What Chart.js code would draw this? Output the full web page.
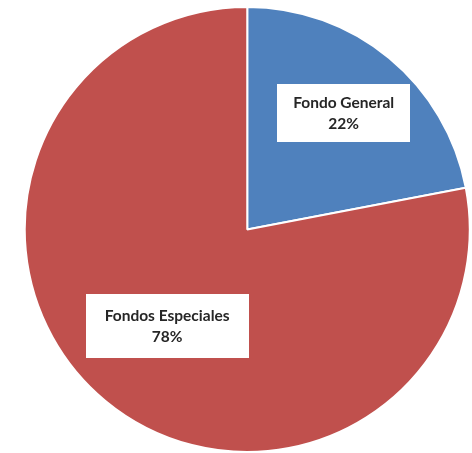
<!DOCTYPE html>
<html>
<head>
<meta charset="utf-8">
<script src="https://cdn.jsdelivr.net/npm/chart.js@4.4.0/dist/chart.umd.min.js"></script>
<style>
  html, body { margin: 0; padding: 0; background: #fff; }
  #wrap { width: 472px; height: 453px; }
</style>
</head>
<body>
<div id="wrap"><canvas id="chart-pie"></canvas></div>
<script>
var categories = ["Fondo General", "Fondos Especiales"];
var shares = [22, 78];
var sliceColors = ["#4F81BD", "#C0504D"];

// label boxes, placed along each slice's mid angle
var boxLabels = {
  id: "boxLabels",
  afterDatasetsDraw: function(chart, args, opts) {
    var ctx = chart.ctx;
    var meta = chart.getDatasetMeta(0);
    ctx.save();
    ctx.font = "bold 15.5px Lato, 'Open Sans', sans-serif";
    ctx.textAlign = "center";
    ctx.textBaseline = "middle";
    meta.data.forEach(function(arc, i) {
      var mid = (arc.startAngle + arc.endAngle) / 2;
      var d = arc.outerRadius * opts.dist[i];
      var cx = arc.x + Math.cos(mid) * d;
      var cy = arc.y + Math.sin(mid) * d;
      var line1 = categories[i];
      var line2 = shares[i] + "%";
      var w = ctx.measureText(line1).width + opts.padX[i] * 2;
      var h = opts.boxH[i];
      ctx.fillStyle = "#ffffff";
      ctx.fillRect(Math.round(cx - w / 2), Math.round(cy - h / 2), Math.round(w), h);
      ctx.fillStyle = "#262626";
      ctx.fillText(line1, cx, cy - 10);
      ctx.fillText(line2, cx, cy + 11);
    });
    ctx.restore();
  }
};

new Chart(document.getElementById("chart-pie").getContext("2d"), {
  type: "pie",
  data: {
    labels: categories,
    datasets: [{
      data: shares,
      backgroundColor: sliceColors,
      borderColor: "#ffffff",
      borderWidth: 2
    }]
  },
  options: {
    responsive: true,
    maintainAspectRatio: false,
    animation: false,
    layout: { padding: { left: 22.5, right: 0, top: 6, bottom: 0 } },
    plugins: {
      legend: { display: false },
      tooltip: { enabled: false },
      boxLabels: {
        dist: [0.68, 0.565],
        padX: [16, 19],
        boxH: [58, 64]
      }
    }
  },
  plugins: [boxLabels]
});
</script>
</body>
</html>
